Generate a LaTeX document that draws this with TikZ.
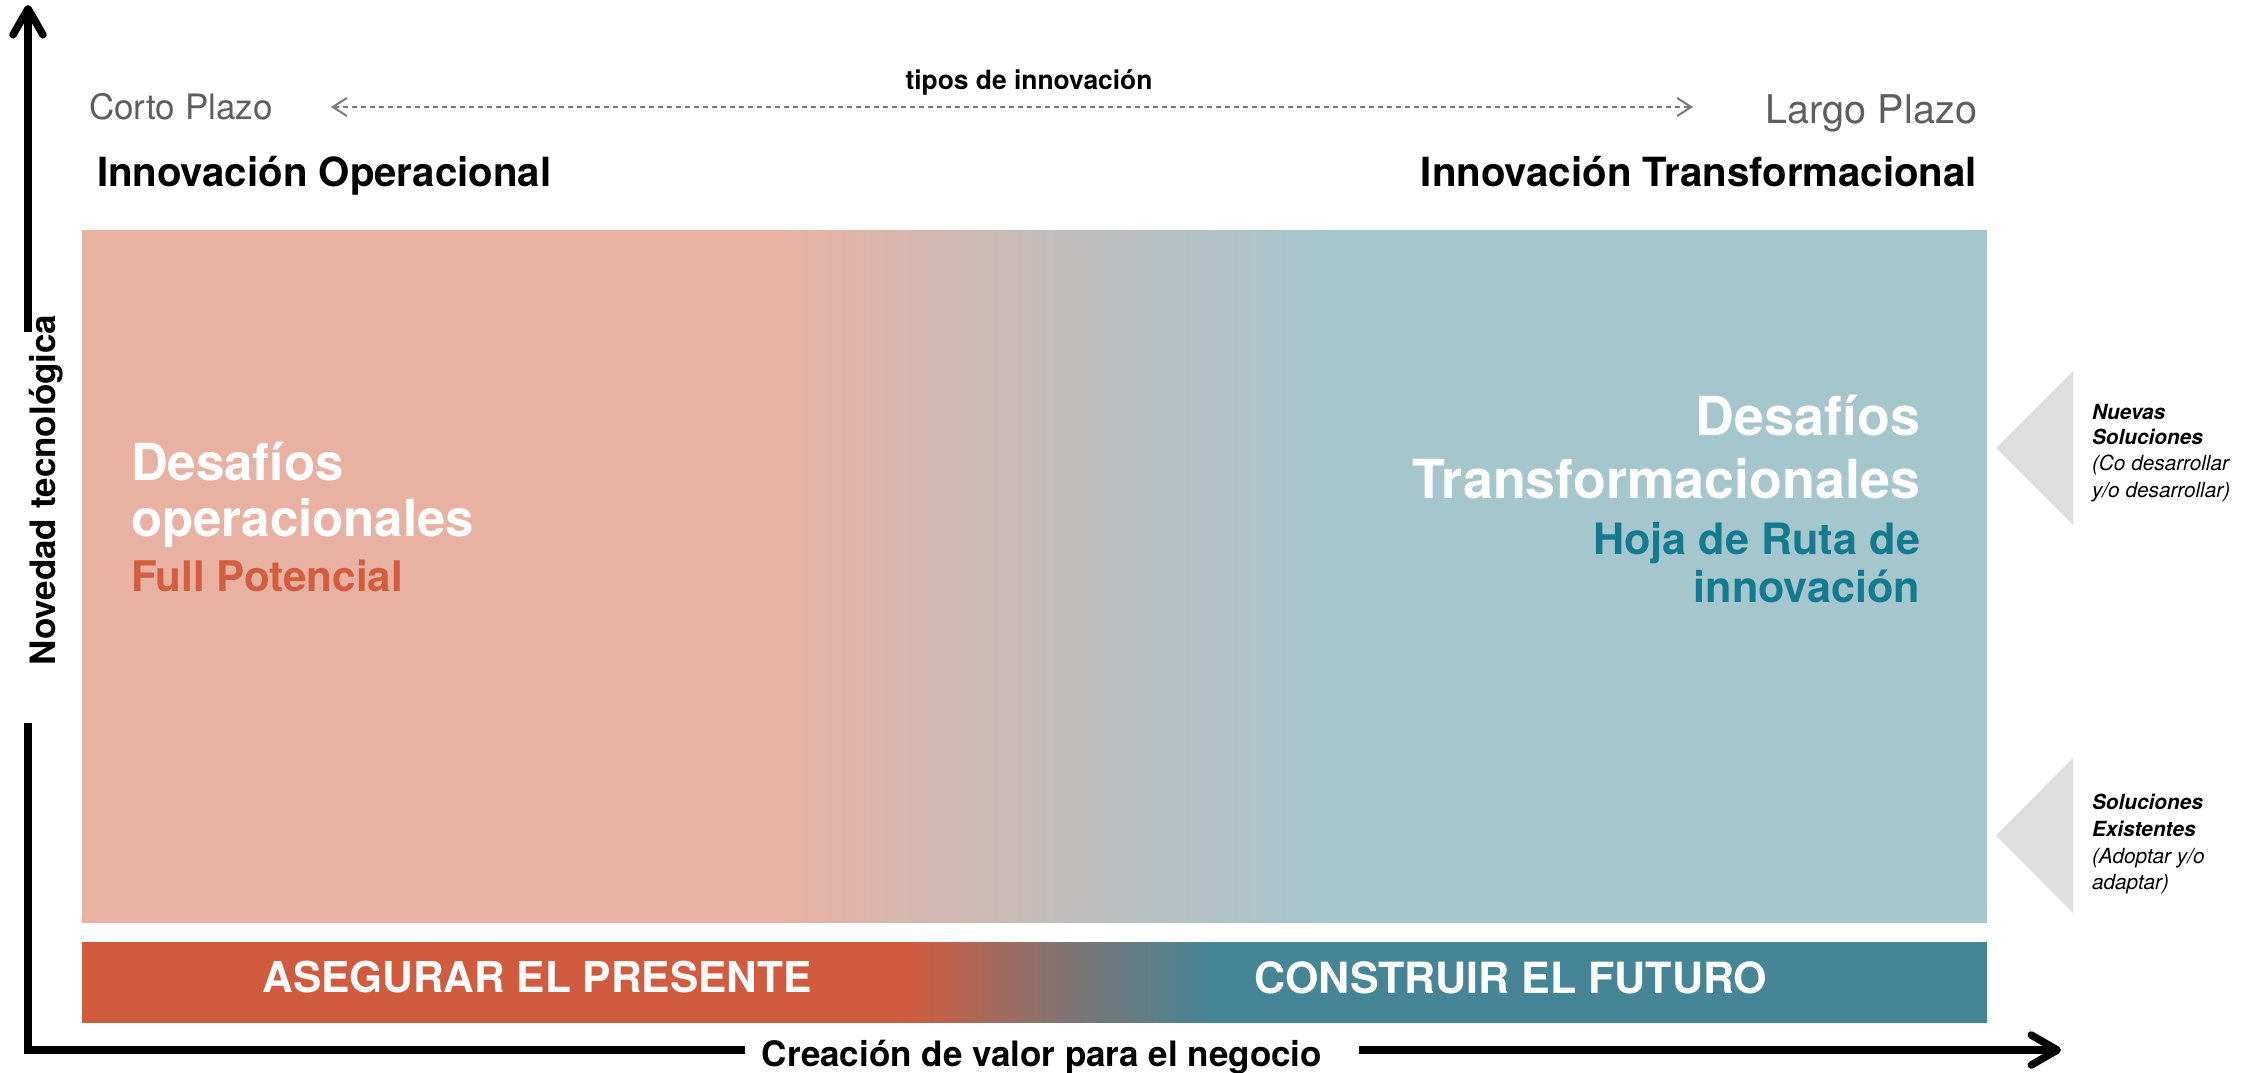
\documentclass[tikz,border=0pt]{standalone}
\usepackage{fontspec}
\setmainfont{TeX Gyre Heros}
\usetikzlibrary{arrows.meta}
\definecolor{salm}{HTML}{E9B1A2}
\definecolor{midg}{HTML}{C2BDBC}
\definecolor{bluel}{HTML}{A6C6CD}
\definecolor{barorange}{HTML}{D15B3E}
\definecolor{barmid}{HTML}{827473}
\definecolor{barteal}{HTML}{458595}
\definecolor{potorange}{HTML}{D35D3F}
\definecolor{hojateal}{HTML}{137A92}
\definecolor{plazogray}{HTML}{5E5E5E}
\definecolor{dotgray}{HTML}{7A7A7A}
\definecolor{trigray}{HTML}{DEDEDE}
\pgfdeclarehorizontalshading{bigshade}{100bp}{color(0bp)=(salm); color(43.1bp)=(salm); color(50.6bp)=(midg); color(57.6bp)=(bluel); color(100bp)=(bluel)}
\pgfdeclarehorizontalshading{barshade}{100bp}{color(0bp)=(barorange); color(46.6bp)=(barorange); color(50.7bp)=(barmid); color(54.7bp)=(barteal); color(100bp)=(barteal)}
\begin{document}
\begin{tikzpicture}[x=0.5pt,y=-0.5pt,
  txt/.style={inner sep=0pt, outer sep=0pt},
  axisline/.style={line width=3.75pt, black, line join=miter},
  axistip/.style={-{Straight Barb[length=13pt,width=15pt,round]}},
  dotarrow/.style={dotgray, line width=1pt, dash pattern=on 2.5pt off 2pt,
    {Straight Barb[length=7pt,width=9pt]}-{Straight Barb[length=7pt,width=9pt]}},
  plazo/.style={txt, text=plazogray, font=\fontsize{17.5}{20}\selectfont},
  plazobig/.style={txt, text=plazogray, font=\fontsize{19.8}{22}\selectfont},
  heading/.style={txt, font=\bfseries\fontsize{20.1}{22}\selectfont},
  bigwhite/.style={txt, text=white, font=\bfseries\fontsize{25.5}{28}\selectfont},
  bigwhiteR/.style={txt, text=white, font=\bfseries\fontsize{26.9}{29}\selectfont},
  potential/.style={txt, text=potorange, font=\bfseries\fontsize{21.1}{24}\selectfont},
  hoja/.style={txt, text=hojateal, font=\bfseries\fontsize{21.6}{24}\selectfont},
  bartext/.style={txt, text=white, font=\bfseries\fontsize{21.2}{24}\selectfont},
  bartextR/.style={txt, text=white, font=\bfseries\fontsize{21.5}{24}\selectfont},
  axislabel/.style={txt, font=\bfseries\fontsize{17.5}{20}\selectfont},
  sidebold/.style={txt, font=\bfseries\itshape\fontsize{10.4}{12}\selectfont, anchor=base west},
  sideit/.style={txt, font=\itshape\fontsize{10.4}{12}\selectfont, anchor=base west},
  tri/.style={fill=trigray, draw=none}
]
\useasboundingbox (0,0) rectangle (2259,1072);

% main panels
\node[shade, shading=bigshade, draw=none, inner sep=0pt, minimum width=952.5pt, minimum height=346pt] (big) at (1034.5,576) {};
\node[shade, shading=barshade, draw=none, inner sep=0pt, minimum width=952.5pt, minimum height=40pt] (bar) at (1034.5,982) {};

% bar texts
\node[bartext, anchor=base] (asegurar) at (537,992) {ASEGURAR EL PRESENTE};
\node[bartextR, anchor=base] (construir) at (1511,993) {CONSTRUIR EL FUTURO};

% top labels
\node[plazo, anchor=base west] (corto) at (89,119) {Corto Plazo};
\node[plazobig, anchor=base east] (largo) at (1977,123) {Largo Plazo};
\node[txt, font=\bfseries\fontsize{13.2}{15}\selectfont, anchor=base] (tipos) at (1029,89) {tipos de innovación};
\coordinate (dl) at (331,107);
\coordinate (dr) at (1693,107);
\draw[dotarrow] (dl) -- (dr);
\node[heading, anchor=base west] (iop) at (97,186) {Innovación Operacional};
\node[heading, anchor=base east] (itr) at (1977,186) {Innovación Transformacional};

% left block
\node[bigwhite, anchor=base west] (dop1) at (131,480) {Desafíos};
\node[bigwhite, anchor=base west] (dop2) at (131,536) {operacionales};
\node[potential, anchor=base west] (full) at (131,591) {Full Potencial};

% right block
\node[bigwhiteR, anchor=base east] (dtr1) at (1920,435) {Desafíos};
\node[bigwhiteR, anchor=base east] (dtr2) at (1920,498) {Transformacionales};
\node[hoja, anchor=base east] (hoja1) at (1920,554) {Hoja de Ruta de};
\node[hoja, anchor=base east] (hoja2) at (1920,602) {innovación};

% side triangles
\fill[tri] (1996,448) -- (2073,371) -- (2073,525) -- cycle;
\fill[tri] (1996,835.5) -- (2073,758) -- (2073,913) -- cycle;

% side texts
\node[sidebold] (ns1) at (2092,419) {Nuevas};
\node[sidebold] (ns2) at (2092,444) {Soluciones};
\node[sideit] (ns3) at (2092,470) {(Co desarrollar};
\node[sideit] (ns4) at (2092,497) {y/o desarrollar)};
\node[sidebold] (se1) at (2092,809) {Soluciones};
\node[sidebold] (se2) at (2092,836) {Existentes};
\node[sideit] (se3) at (2092,863) {(Adoptar y/o};
\node[sideit] (se4) at (2092,889) {adaptar)};

% axes
\node[axislabel, rotate=90, anchor=base] (ylab) at (55,490) {Novedad tecnológica};
\node[axislabel, anchor=base] (xlab) at (1042,1066) {Creación de valor para el negocio};
\coordinate (ytip) at (28,5);
\coordinate (ytop) at (28,332);
\coordinate (ybot) at (28,723);
\coordinate (orig) at (28,1050);
\coordinate (xl) at (745,1050);
\coordinate (xr) at (1359,1050);
\coordinate (xtip) at (2061,1050);
\draw[axisline] (ybot) -- (orig) -- (xl);
\draw[axisline, axistip] (ytop) -- (ytip);
\draw[axisline, axistip] (xr) -- (xtip);
\end{tikzpicture}
\end{document}
